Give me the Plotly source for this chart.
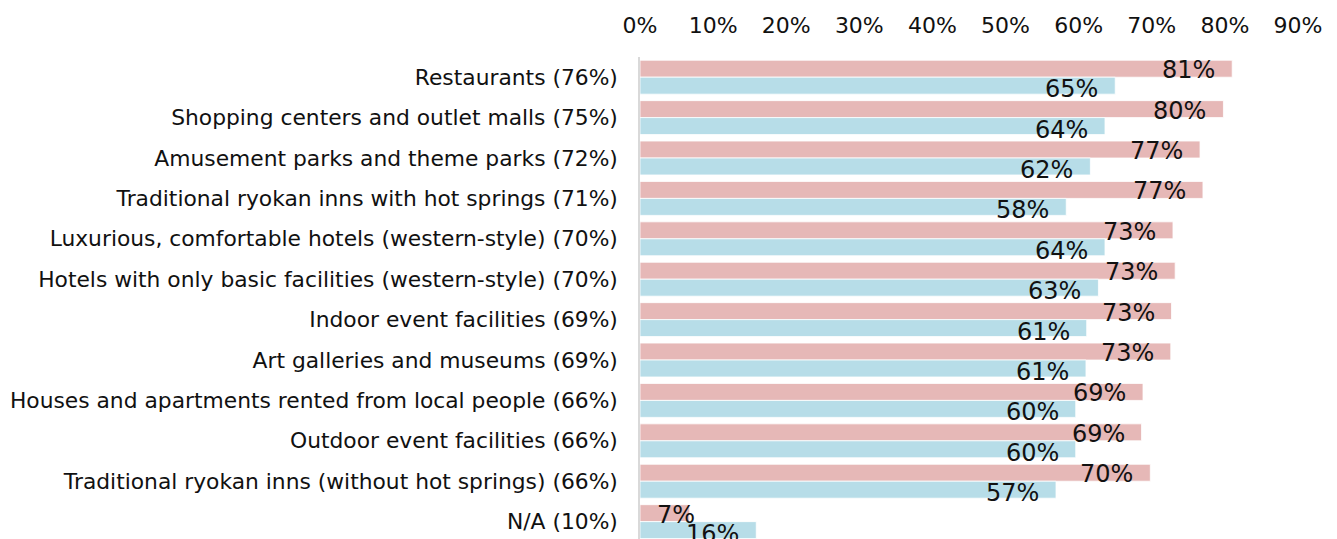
import plotly.graph_objects as go

categories = [
    "Restaurants (76%)",
    "Shopping centers and outlet malls (75%)",
    "Amusement parks and theme parks (72%)",
    "Traditional ryokan inns with hot springs (71%)",
    "Luxurious, comfortable hotels (western-style) (70%)",
    "Hotels with only basic facilities (western-style) (70%)",
    "Indoor event facilities (69%)",
    "Art galleries and museums (69%)",
    "Houses and apartments rented from local people (66%)",
    "Outdoor event facilities (66%)",
    "Traditional ryokan inns (without hot springs) (66%)",
    "N/A (10%)",
]
pink_values = [81.0, 79.8, 76.6, 77.0, 72.9, 73.2, 72.7, 72.6, 68.8, 68.6, 69.8, 6.8]
blue_values = [65.0, 63.6, 61.6, 58.3, 63.6, 62.7, 61.1, 61.0, 59.6, 59.6, 56.9, 15.9]
tick_vals = [0, 10, 20, 30, 40, 50, 60, 70, 80, 90]
tick_text = [f"{v}%" for v in tick_vals]

PINK = "#E6B8B7"
BLUE = "#B7DDE8"
FONT = "DejaVu Sans"

fig = go.Figure()
fig.add_trace(go.Bar(y=categories, x=pink_values, orientation="h", name="A",
                     marker=dict(color=PINK, line=dict(color="white", width=0.8)),
                     hoverinfo="skip"))
fig.add_trace(go.Bar(y=categories, x=blue_values, orientation="h", name="B",
                     marker=dict(color=BLUE, line=dict(color="white", width=0.8)),
                     hoverinfo="skip"))


def label(value, cat, yshift):
    # inside-end label; short bars get the label clamped to the bar start
    if value < 10:
        pos = dict(x=0, xanchor="left", xshift=15)
    else:
        pos = dict(x=value, xanchor="right", xshift=-15)
    return dict(y=cat, xref="x", yref="y", text=f"{value:.0f}%",
                showarrow=False, yanchor="middle", yshift=yshift,
                font=dict(family=FONT, size=24, color="#111111"), **pos)


annotations = []
for cat, pv, bv in zip(categories, pink_values, blue_values):
    annotations.append(label(pv, cat, 7))
    annotations.append(label(bv, cat, -12))

fig.update_layout(
    width=1329, height=531,
    margin=dict(l=632, r=39, t=49, b=0),
    paper_bgcolor="white", plot_bgcolor="white",
    barmode="group", bargap=0.16, bargroupgap=0.0,
    showlegend=False,
    font=dict(family=FONT, color="#111111"),
    annotations=annotations,
    xaxis=dict(side="top", range=[0, 90], tickvals=tick_vals, ticktext=tick_text,
               showgrid=False, zeroline=False, showline=False, ticks="",
               ticklabelstandoff=19, automargin=False,
               tickfont=dict(family=FONT, size=22, color="#111111")),
    yaxis=dict(type="category", range=[11.43, -0.5], showgrid=False, zeroline=False,
               showline=True, linecolor="#D9D9D9", linewidth=1.5, ticks="",
               ticklabelstandoff=16, automargin=False,
               tickfont=dict(family=FONT, size=21.8, color="#111111")),
)

fig.write_html("out.html")
